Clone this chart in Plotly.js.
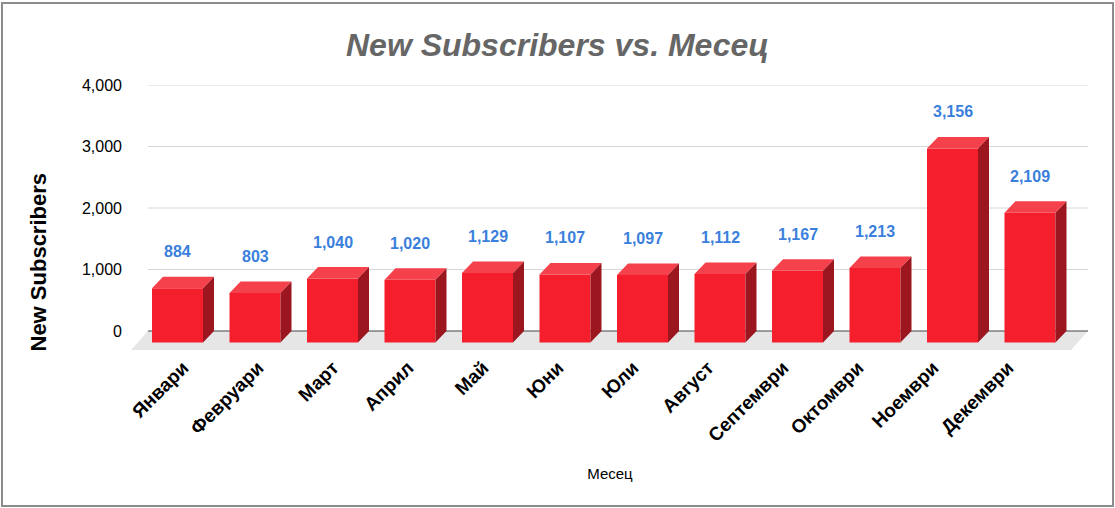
<!DOCTYPE html>
<html>
<head>
<meta charset="utf-8">
<script src="https://cdn.plot.ly/plotly-3.0.1.min.js"></script>
<style>
  html, body { margin: 0; padding: 0; background: #ffffff; }
  #wrap { position: relative; width: 1115px; height: 508px; overflow: hidden; }
  #chart { position: absolute; left: 0; top: 0; width: 1115px; height: 508px; }
  #frame { position: absolute; left: 1px; top: 2px; width: 1109px; height: 501px;
           border: 2px solid #8c8c8c; pointer-events: none; }
</style>
</head>
<body>
<div id="wrap">
  <div id="chart"></div>
  <div id="frame"></div>
</div>
<script>
// ---- data ----
const months = ['Январи', 'Февруари', 'Март', 'Април', 'Май', 'Юни', 'Юли', 'Август', 'Септември', 'Октомври', 'Ноември', 'Декември'];
const subscribers = [884, 803, 1040, 1020, 1129, 1107, 1097, 1112, 1167, 1213, 3156, 2109];
const yTickValues = [0, 1000, 2000, 3000, 4000];
const chartTitle = 'New Subscribers vs. Месец';
const xTitle = 'Месец';
const yTitle = 'New Subscribers';

// ---- geometry (pixel-based layout of the pseudo-3D chart) ----
const W = 1115, H = 508;
const plotL = 130, plotR = 1090, plotT = 85, plotB = 352;
const pxPerCat = 77.5;
const firstBackCenterPx = 188.5;
const xmin = -(firstBackCenterPx - plotL) / pxPerCat;
const xmax = xmin + (plotR - plotL) / pxPerCat;
const pxPerUnitY = 61.5 / 1000;
const ymax = 4000;
const ymin = ymax - (plotB - plotT) / pxPerUnitY;
const dxu = 11 / pxPerCat;        // depth offset (x)
const dyu = 11.5 / pxPerUnitY;    // depth offset (y)
const hw = 25.5 / pxPerCat;       // half width of the bar front
const px2x = p => xmin + (p - plotL) / pxPerCat;
const py2y = d => -d / pxPerUnitY; // pixels below zero line -> data units

const idx = months.map((m, i) => i);
const frontX = idx.map(i => i - dxu);

// front faces
const frontTrace = {
  type: 'bar',
  x: frontX,
  y: subscribers,
  base: subscribers.map(() => -dyu),
  width: subscribers.map(() => 2 * hw),
  marker: { color: '#f41e2c', line: { width: 0 } },
  hoverinfo: 'skip',
  showlegend: false
};

// top faces
const topX = [], topY = [];
subscribers.forEach((v, i) => {
  topX.push(i - dxu - hw, i - hw, i + hw, i - dxu + hw, i - dxu - hw, null);
  topY.push(v - dyu, v, v, v - dyu, v - dyu, null);
});
const topTrace = {
  type: 'scatter', mode: 'none', x: topX, y: topY, fill: 'toself',
  fillcolor: '#f4414b', hoverinfo: 'skip', showlegend: false
};

// side faces
const sideX = [], sideY = [];
subscribers.forEach((v, i) => {
  sideX.push(i - dxu + hw, i + hw, i + hw, i - dxu + hw, i - dxu + hw, null);
  sideY.push(v - dyu, v, 0, -dyu, v - dyu, null);
});
const sideTrace = {
  type: 'scatter', mode: 'none', x: sideX, y: sideY, fill: 'toself',
  fillcolor: '#9c1620', hoverinfo: 'skip', showlegend: false
};

// shapes: floor, gridlines, zero line
const gx0 = px2x(148), gx1 = px2x(1088);
const shapes = [];
shapes.push({
  type: 'path', layer: 'below', xref: 'x', yref: 'y',
  path: `M ${gx0},0 L ${gx1},0 L ${px2x(1071)},${py2y(19)} L ${px2x(131)},${py2y(19)} Z`,
  fillcolor: '#e6e6e6', line: { width: 0 }
});
yTickValues.forEach(t => {
  if (t === 0) return;
  shapes.push({
    type: 'line', layer: 'below', xref: 'x', yref: 'y',
    x0: gx0, x1: gx1, y0: t, y1: t,
    line: { color: '#d6d6d6', width: 1 }
  });
});
shapes.push({
  type: 'line', layer: 'below', xref: 'x', yref: 'y',
  x0: gx0, x1: gx1, y0: 0, y1: 0,
  line: { color: '#444444', width: 1 }
});

// value labels
const annotations = subscribers.map((v, i) => ({
  x: i - dxu, y: v, xref: 'x', yref: 'y',
  text: v.toLocaleString('en-US'),
  showarrow: false, yshift: 25, yanchor: 'middle', xanchor: 'center',
  font: { family: 'Liberation Sans, Arial, sans-serif', size: 16, color: '#3b7fdc', weight: 'bold' }
}));
// y axis title placed as rotated text at the far left
annotations.push({
  xref: 'paper', yref: 'paper',
  x: (37.5 - plotL) / (plotR - plotL), y: (plotB - 262) / (plotB - plotT),
  text: '<b>' + yTitle + '</b>', textangle: -90, showarrow: false,
  xanchor: 'center', yanchor: 'middle',
  font: { family: 'Liberation Sans, Arial, sans-serif', size: 22, color: '#000000' }
});

const labelTicks = idx.map(i => px2x(183 + 75 * i));

const layout = {
  width: W, height: H,
  margin: { l: plotL, r: W - plotR, t: plotT, b: H - plotB, pad: 0 },
  paper_bgcolor: '#ffffff', plot_bgcolor: '#ffffff',
  font: { family: 'Liberation Sans, Arial, sans-serif', color: '#000000' },
  title: {
    text: '<b><i>' + chartTitle + '</i></b>',
    font: { family: 'Liberation Sans, Arial, sans-serif', size: 32, color: '#666666' },
    x: 0.5, xanchor: 'center', xref: 'container',
    y: 1 - 45 / H, yanchor: 'middle', yref: 'container'
  },
  xaxis: {
    range: [xmin, xmax], fixedrange: true,
    showgrid: false, zeroline: false, showline: false, ticks: '',
    tickmode: 'array', tickvals: labelTicks, ticktext: months,
    tickangle: -45,
    tickfont: { family: 'Liberation Sans, Arial, sans-serif', size: 19, color: '#000000', weight: 'bold' },
    title: { text: xTitle, font: { size: 15, color: '#000000' }, standoff: 23 }
  },
  yaxis: {
    range: [ymin, ymax], fixedrange: true,
    showgrid: false, zeroline: false, showline: false, ticks: '',
    tickmode: 'array', tickvals: yTickValues, tickformat: ',',
    ticklabelstandoff: 7,
    tickfont: { family: 'Liberation Sans, Arial, sans-serif', size: 16, color: '#000000' },
    title: { text: '' }
  },
  shapes: shapes,
  annotations: annotations,
  showlegend: false,
  hovermode: false
};

Plotly.newPlot('chart', [frontTrace, topTrace, sideTrace], layout, { staticPlot: true, displayModeBar: false });
</script>
</body>
</html>
